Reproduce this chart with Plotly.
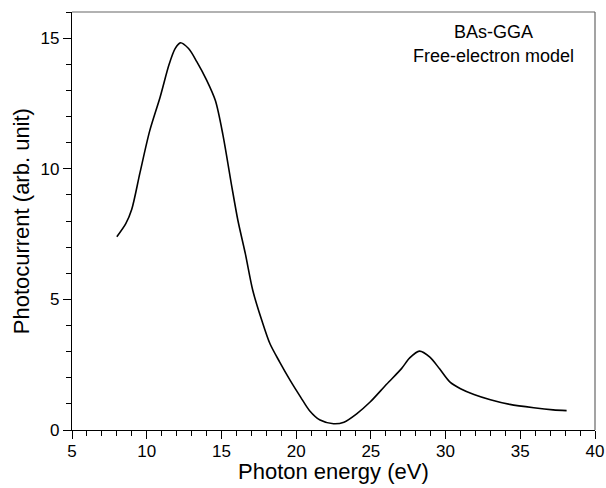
import plotly.graph_objects as go

energy = [8.0, 8.6, 9.0, 9.55, 10.2, 10.9, 11.5, 11.9, 12.25, 12.8, 13.35, 14.0, 14.6,
          15.1, 15.7, 16.1, 16.6, 17.1, 17.7, 18.25, 18.9, 19.6, 20.3, 20.9, 21.6,
          22.5, 23.2, 24.05, 24.95, 26.05, 27.05, 27.6, 28.25, 28.95, 29.6, 30.3,
          31.0, 31.9, 33.0, 34.3, 35.9, 37.2, 38.1]
photocurrent = [7.40, 7.9, 8.45, 9.85, 11.45, 12.75, 14.0, 14.6, 14.82, 14.6, 14.1, 13.4, 12.6,
                11.3, 9.3, 8.03, 6.75, 5.34, 4.2, 3.3, 2.6, 1.9, 1.26, 0.74, 0.38,
                0.24, 0.3, 0.62, 1.07, 1.75, 2.35, 2.76, 3.02, 2.79, 2.34, 1.83,
                1.58, 1.36, 1.16, 0.98, 0.85, 0.77, 0.74]
x_ticks = [5, 10, 15, 20, 25, 30, 35, 40]
y_ticks = [0, 5, 10, 15]
labels = ["BAs-GGA", "Free-electron model"]
x_title = "Photon energy (eV)"
y_title = "Photocurrent (arb. unit)"

font = "Liberation Sans, Arial, sans-serif"

fig = go.Figure()
fig.add_trace(go.Scatter(x=energy, y=photocurrent, mode="lines",
                         line=dict(color="black", width=1.6, shape="spline", smoothing=0.8),
                         showlegend=False, hoverinfo="skip"))

axis_common = dict(showgrid=False, zeroline=False, showline=True, linecolor="black",
                   linewidth=1.2, ticks="outside", ticklen=8, tickwidth=1.2, tickcolor="black",
                   tickfont=dict(family=font, size=17, color="black"), automargin=False,
                   minor=dict(ticks="outside", ticklen=5, tickwidth=1.2, tickcolor="black", dtick=1))

fig.update_xaxes(range=[5, 40], tickvals=x_ticks, ticklabelstandoff=-3, **axis_common)
fig.update_yaxes(range=[0, 16], tickvals=y_ticks, **axis_common)

# top and right frame lines (gray)
fig.add_shape(type="line", xref="paper", yref="paper", x0=0, x1=1, y0=1, y1=1,
              line=dict(color="#666666", width=1.2))
fig.add_shape(type="line", xref="paper", yref="paper", x0=1, x1=1, y0=0, y1=1,
              line=dict(color="#666666", width=1.2))

for txt, yy in zip(labels, [0.951, 0.895]):
    fig.add_annotation(text=txt, xref="paper", yref="paper", x=0.805, y=yy,
                       showarrow=False, xanchor="center", yanchor="middle",
                       font=dict(family=font, size=18, color="black"))

fig.add_annotation(text=x_title, xref="paper", yref="paper", x=0.5, y=-0.1,
                   showarrow=False, xanchor="center", yanchor="middle",
                   font=dict(family=font, size=22, color="black"))
fig.add_annotation(text=y_title, xref="paper", yref="paper", x=-0.097, y=0.5,
                   textangle=-90, showarrow=False, xanchor="center", yanchor="middle",
                   font=dict(family=font, size=22, color="black"))

fig.update_layout(width=606, height=488, margin=dict(l=72, r=11, t=12, b=58),
                  plot_bgcolor="white", paper_bgcolor="white")

fig.write_html("out.html", config={"displayModeBar": False},
               post_script="document.body.style.margin='0';document.body.style.overflow='hidden';")
